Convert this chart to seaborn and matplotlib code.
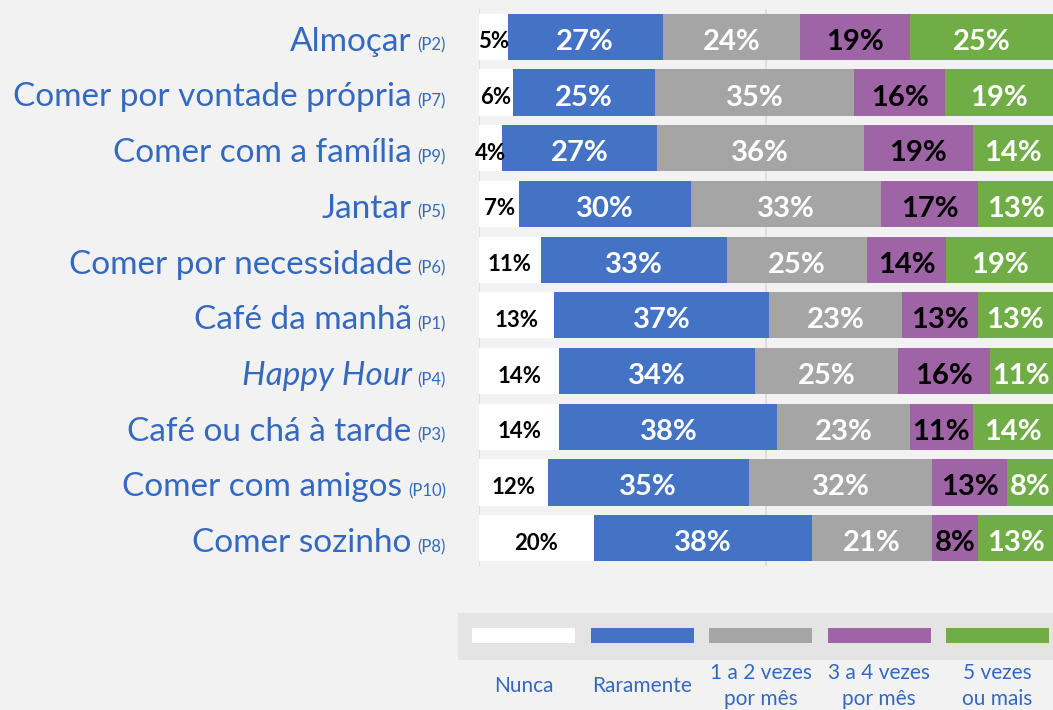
import matplotlib
matplotlib.use("Agg")
import matplotlib.pyplot as plt
from matplotlib.patches import Rectangle
from matplotlib.transforms import IdentityTransform, offset_copy
import seaborn as sns
import numpy as np
import pandas as pd

categories = ["Almoçar", "Comer por vontade própria", "Comer com a família", "Jantar",
              "Comer por necessidade", "Café da manhã", "Happy Hour",
              "Café ou chá à tarde", "Comer com amigos", "Comer sozinho"]
codes = ["(P2)", "(P7)", "(P9)", "(P5)", "(P6)", "(P1)", "(P4)", "(P3)", "(P10)", "(P8)"]
series = ["Nunca", "Raramente", "1 a 2 vezes\npor mês", "3 a 4 vezes\npor mês", "5 vezes\nou mais"]
nunca = [5, 6, 4, 7, 11, 13, 14, 14, 12, 20]
raramente = [27, 25, 27, 30, 33, 37, 34, 38, 35, 38]
vezes_1_2 = [24, 35, 36, 33, 25, 23, 25, 23, 32, 21]
vezes_3_4 = [19, 16, 19, 17, 14, 13, 16, 11, 13, 8]
vezes_5 = [25, 19, 14, 13, 19, 13, 11, 14, 8, 13]

colors = ["#ffffff", "#4472c4", "#a5a5a5", "#9e64a6", "#70ad47"]
text_colors = ["black", "white", "white", "black", "white"]
label_blue = "#3469bf"
bg = "#f2f2f2"

sns.set_style("white")
plt.rcParams["font.family"] = ["Lato", "DejaVu Sans"]

W, H = 1053, 710
fig = plt.figure(figsize=(W / 100, H / 100), dpi=100, facecolor=bg)
ax = fig.add_axes([479 / W, 1 - 566 / H, 574 / W, 557 / H])
ax.set_facecolor(bg)

data = np.array([nunca, raramente, vezes_1_2, vezes_3_4, vezes_5], dtype=float)
# 100% stacked: each row shown as share of its total (labels keep the rounded values)
shares = data / data.sum(axis=0) * 100
cum = np.cumsum(shares, axis=0)

for i in reversed(range(len(series))):
    df = pd.DataFrame({"cat": categories, "val": cum[i]})
    sns.barplot(data=df, x="val", y="cat", orient="h", color=colors[i],
                saturation=1, width=0.83, linewidth=0, ax=ax, zorder=2)

for xv in (0, 50):
    ax.axvline(xv, color="#d9d9d9", lw=1.2, zorder=1)

ax.set_xlim(0, 100)
ax.set_ylim(9.5, -0.5)
ax.set_xticks([])
ax.set_yticks([])
ax.set_xlabel("")
ax.set_ylabel("")
for s in ax.spines.values():
    s.set_visible(False)

# value labels (nudged slightly down so the digits sit centred in the bar)
lab_tr = offset_copy(ax.transData, fig=fig, x=0, y=-5, units="dots")
for i in range(len(series)):
    for j in range(len(categories)):
        cx = cum[i, j] - shares[i, j] / 2
        fs = 16 if i == 0 else 21
        ax.text(cx, j, f"{int(data[i, j])}%", ha="center", va="center", fontsize=fs,
                fontweight="bold", color=text_colors[i], zorder=5, transform=lab_tr)

# category labels with small code suffix
fig.canvas.draw()
renderer = fig.canvas.get_renderer()
for j, (cat, code) in enumerate(zip(categories, codes)):
    _, yb = ax.transData.transform((0, j + 0.25))
    x_end = 446
    t2 = fig.text(x_end, yb, code, transform=IdentityTransform(), ha="right",
                  va="baseline", fontsize=12, color=label_blue)
    bb = t2.get_window_extent(renderer)
    style = "italic" if cat == "Happy Hour" else "normal"
    fig.text(bb.x0 - 6, yb, cat, transform=IdentityTransform(), ha="right",
             va="baseline", fontsize=24, color=label_blue, style=style)

# legend
lax = fig.add_axes([0, 0, 1, 1])
lax.set_xlim(0, W)
lax.set_ylim(H, 0)
lax.axis("off")
lax.add_patch(Rectangle((458, 613), 600, 47, facecolor="#e4e4e4", edgecolor="none"))
for k, (name, c) in enumerate(zip(series, colors)):
    x0 = 472 + k * 118.5
    lax.add_patch(Rectangle((x0, 628), 103, 15, facecolor=c, edgecolor="none"))
    lax.text(x0 + 51.5, 686, name, ha="center", va="center", fontsize=15,
             color=label_blue, linespacing=1.35)

fig.savefig("out.png", dpi=100, facecolor=bg)
